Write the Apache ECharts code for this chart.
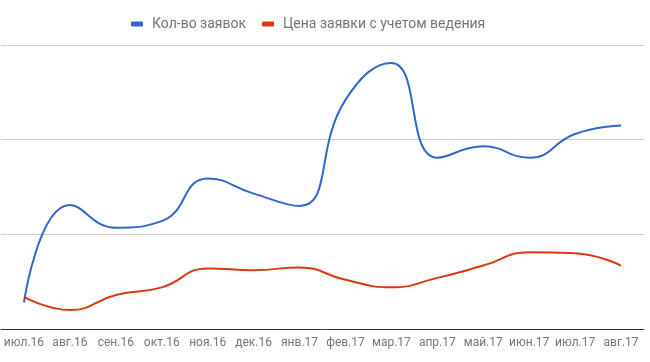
<!DOCTYPE html>
<html><head><meta charset="utf-8">
<script src="https://cdn.jsdelivr.net/npm/echarts@6/dist/echarts.min.js"></script>
<style>html,body{margin:0;padding:0;background:#fff}#c{width:650px;height:362px}</style>
</head><body><div id="c"></div>
<script>
const categories = ['июл.16','авг.16','сен.16','окт.16','ноя.16','дек.16','янв.17','фев.17','мар.17','апр.17','май.17','июн.17','июл.17','авг.17'];
const seriesNames = ['Кол-во заявок','Цена заявки с учетом ведения'];
const requests = [28, 131, 107, 114, 159, 143, 130, 242, 281, 181, 193, 181, 206, 215];
const price = [34, 20, 36, 44, 64, 62, 65, 52, 44, 54, 67, 81, 80, 67];

const chart = echarts.init(document.getElementById('c'));
chart.setOption({
  animation: false,
  color: ['#3366cc', '#dc3912'],
  legend: {
    top: 12, left: 126,
    itemWidth: 12, itemHeight: 5, itemGap: 16,
    icon: 'roundRect',
    textStyle: {color: '#757575', fontSize: 14, fontFamily: 'Roboto', padding: [0, 0, 0, 4]},
    data: seriesNames
  },
  grid: {left: 1, right: 6, top: 45, bottom: 33, containLabel: false},
  xAxis: {
    type: 'category', data: categories, boundaryGap: true,
    axisLine: {lineStyle: {color: '#333', width: 1}},
    axisTick: {show: false},
    axisLabel: {color: '#757575', fontSize: 12, fontFamily: 'Roboto', margin: 8, interval: 0}
  },
  yAxis: {
    type: 'value', min: 0, max: 300, interval: 100,
    axisLabel: {show: false}, axisLine: {show: false}, axisTick: {show: false},
    splitLine: {lineStyle: {color: '#cccccc'}}
  },
  series: [
    {name: seriesNames[0], type: 'line', data: requests, smooth: 0.5, showSymbol: false, lineStyle: {width: 2}},
    {name: seriesNames[1], type: 'line', data: price, smooth: 0.5, showSymbol: false, lineStyle: {width: 2}}
  ]
});
</script></body></html>
